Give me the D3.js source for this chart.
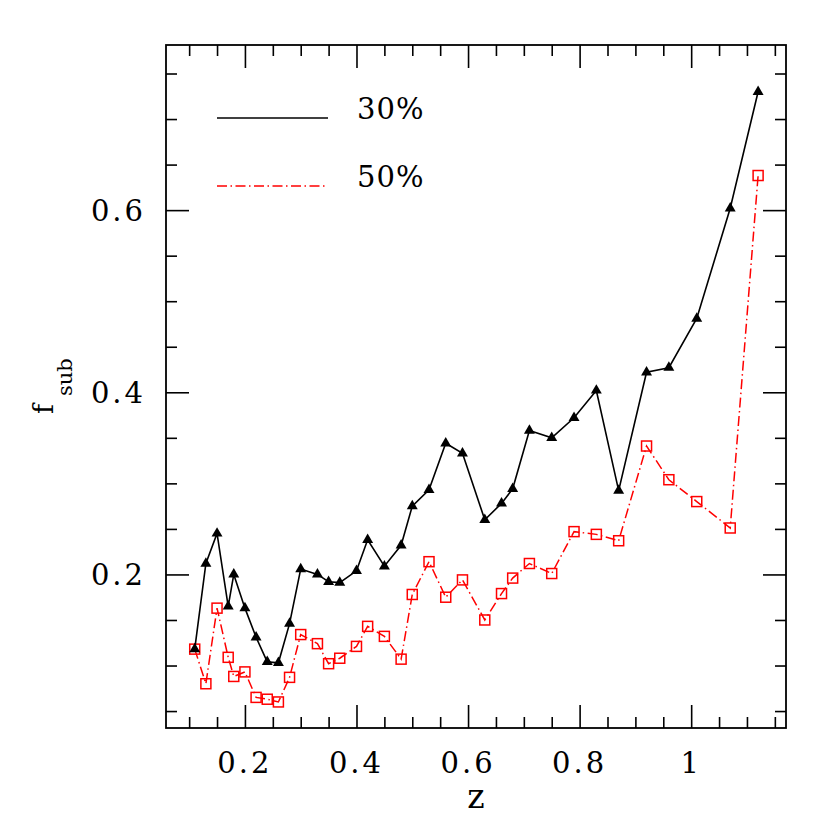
<!DOCTYPE html>
<html>
<head>
<meta charset="utf-8">
<script src="https://cdn.jsdelivr.net/npm/d3@7"></script>
<style>
  body { margin: 0; background: #fff; }
  text { font-family: "DejaVu Serif", "Liberation Serif", serif; }
</style>
</head>
<body>
<div id="chart"></div>
<script>
// redshift bins and substructure fractions
const redshifts = [0.11, 0.13, 0.15, 0.17, 0.18, 0.20, 0.22, 0.24, 0.26, 0.28, 0.30, 0.33, 0.35, 0.37,
  0.40, 0.42, 0.45, 0.48, 0.50, 0.53, 0.56, 0.59, 0.63, 0.66, 0.68, 0.71, 0.75, 0.79, 0.83, 0.87,
  0.92, 0.96, 1.01, 1.07, 1.12];
const fsub30 = [0.118, 0.212, 0.245, 0.165, 0.200, 0.163, 0.131, 0.104, 0.103, 0.146, 0.206, 0.200,
  0.192, 0.191, 0.204, 0.238, 0.209, 0.232, 0.275, 0.293, 0.344, 0.333, 0.260, 0.278, 0.294, 0.358,
  0.350, 0.372, 0.402, 0.292, 0.422, 0.427, 0.481, 0.602, 0.730];
const fsub50 = [0.118, 0.080, 0.163, 0.109, 0.088, 0.093, 0.065, 0.063, 0.060, 0.087, 0.134, 0.124,
  0.102, 0.108, 0.121, 0.143, 0.132, 0.107, 0.178, 0.214, 0.175, 0.194, 0.150, 0.179, 0.196, 0.212,
  0.201, 0.247, 0.244, 0.237, 0.341, 0.304, 0.280, 0.251, 0.638];
const seriesNames = ["30%", "50%"];

const xMajor = [0.2, 0.4, 0.6, 0.8, 1.0];
const xMajorLabels = ["0.2", "0.4", "0.6", "0.8", "1"];
const yMajor = [0.2, 0.4, 0.6];
const yMajorLabels = ["0.2", "0.4", "0.6"];

const W = 830, H = 830;
const pLeft = 166, pTop = 45, pRight = 786, pBottom = 728;

const svg = d3.select("#chart").append("svg")
  .attr("width", W)
  .attr("height", H);

const x = d3.scaleLinear().domain([0.0585, 1.17]).range([pLeft, pRight]);
const y = d3.scaleLinear().domain([0.0314, 0.7813]).range([pBottom, pTop]);

const xMinor = d3.range(0.1, 1.16, 0.05).filter(v => !xMajor.some(m => Math.abs(m - v) < 1e-6));
const yMinor = d3.range(0.05, 0.78, 0.05).filter(v => !yMajor.some(m => Math.abs(m - v) < 1e-6));

const majorLen = 23, minorLen = 11;

// ticks drawn inward on all four sides
function addAxis(axis, tickVals, len, transform) {
  const g = svg.append("g")
    .attr("transform", transform)
    .call(axis.tickValues(tickVals).tickSizeInner(-len).tickSizeOuter(0).tickFormat(""));
  g.select(".domain").remove();
  g.selectAll(".tick line").attr("stroke", "#000").attr("stroke-width", 1.6);
  return g;
}
addAxis(d3.axisBottom(x), xMajor, majorLen, `translate(0,${pBottom})`);
addAxis(d3.axisBottom(x), xMinor, minorLen, `translate(0,${pBottom})`);
addAxis(d3.axisTop(x), xMajor, majorLen, `translate(0,${pTop})`);
addAxis(d3.axisTop(x), xMinor, minorLen, `translate(0,${pTop})`);
addAxis(d3.axisLeft(y), yMajor, majorLen, `translate(${pLeft},0)`);
addAxis(d3.axisLeft(y), yMinor, minorLen, `translate(${pLeft},0)`);
addAxis(d3.axisRight(y), yMajor, majorLen, `translate(${pRight},0)`);
addAxis(d3.axisRight(y), yMinor, minorLen, `translate(${pRight},0)`);

// frame
svg.append("rect")
  .attr("x", pLeft).attr("y", pTop)
  .attr("width", pRight - pLeft).attr("height", pBottom - pTop)
  .attr("fill", "none")
  .attr("stroke", "#000")
  .attr("stroke-width", 1.8);

// tick labels
svg.selectAll(".xlab")
  .data(xMajor)
  .enter().append("text")
  .attr("x", d => x(d))
  .attr("y", 773)
  .attr("text-anchor", "middle")
  .attr("font-size", "29px")
  .attr("letter-spacing", "3px")
  .text((d, i) => xMajorLabels[i]);

svg.selectAll(".ylab")
  .data(yMajor)
  .enter().append("text")
  .attr("x", 146)
  .attr("y", d => y(d) + 11)
  .attr("text-anchor", "end")
  .attr("font-size", "29px")
  .attr("letter-spacing", "3px")
  .text((d, i) => yMajorLabels[i]);

// axis titles
svg.append("text")
  .attr("x", (pLeft + pRight) / 2)
  .attr("y", 808)
  .attr("text-anchor", "middle")
  .attr("font-size", "33px")
  .text("z");

const yt = svg.append("text")
  .attr("transform", "translate(53,414) rotate(-90)");
yt.append("tspan").attr("x", 0).attr("y", 0).attr("font-size", "27px").text("f");
yt.append("tspan").attr("x", 18).attr("y", 19).attr("font-size", "21px").text("sub");

const line = d3.line();
const pts30 = redshifts.map((z, i) => [x(z), y(fsub30[i])]);
const pts50 = redshifts.map((z, i) => [x(z), y(fsub50[i])]);
const dashDot = "10,3.5,1.5,3.5";

// 50% series: red dash-dot with open squares
svg.append("path")
  .attr("d", line(pts50))
  .attr("fill", "none")
  .attr("stroke", "#ff0000")
  .attr("stroke-width", 1.5)
  .attr("stroke-dasharray", dashDot);

svg.selectAll(".sq")
  .data(pts50)
  .enter().append("rect")
  .attr("x", d => d[0] - 5)
  .attr("y", d => d[1] - 5)
  .attr("width", 10)
  .attr("height", 10)
  .attr("fill", "none")
  .attr("stroke", "#ff0000")
  .attr("stroke-width", 1.5);

// 30% series: black solid with filled triangles
svg.append("path")
  .attr("d", line(pts30))
  .attr("fill", "none")
  .attr("stroke", "#000")
  .attr("stroke-width", 1.6);

const tri = d3.symbol().type(d3.symbolTriangle).size(52);
svg.selectAll(".tri")
  .data(pts30)
  .enter().append("path")
  .attr("d", tri)
  .attr("transform", d => `translate(${d[0]},${d[1]})`)
  .attr("fill", "#000");

// legend
const legendRows = [
  { name: seriesNames[0], y: 118, stroke: "#000", dash: null },
  { name: seriesNames[1], y: 186, stroke: "#ff0000", dash: dashDot }
];
legendRows.forEach(r => {
  svg.append("line")
    .attr("x1", 217).attr("x2", 328)
    .attr("y1", r.y).attr("y2", r.y)
    .attr("stroke", r.stroke)
    .attr("stroke-width", 1.6)
    .attr("stroke-dasharray", r.dash);
  svg.append("text")
    .attr("x", 357)
    .attr("y", r.y + 1)
    .attr("font-size", "29px")
    .attr("letter-spacing", "1px")
    .text(r.name);
});
</script>
</body>
</html>
